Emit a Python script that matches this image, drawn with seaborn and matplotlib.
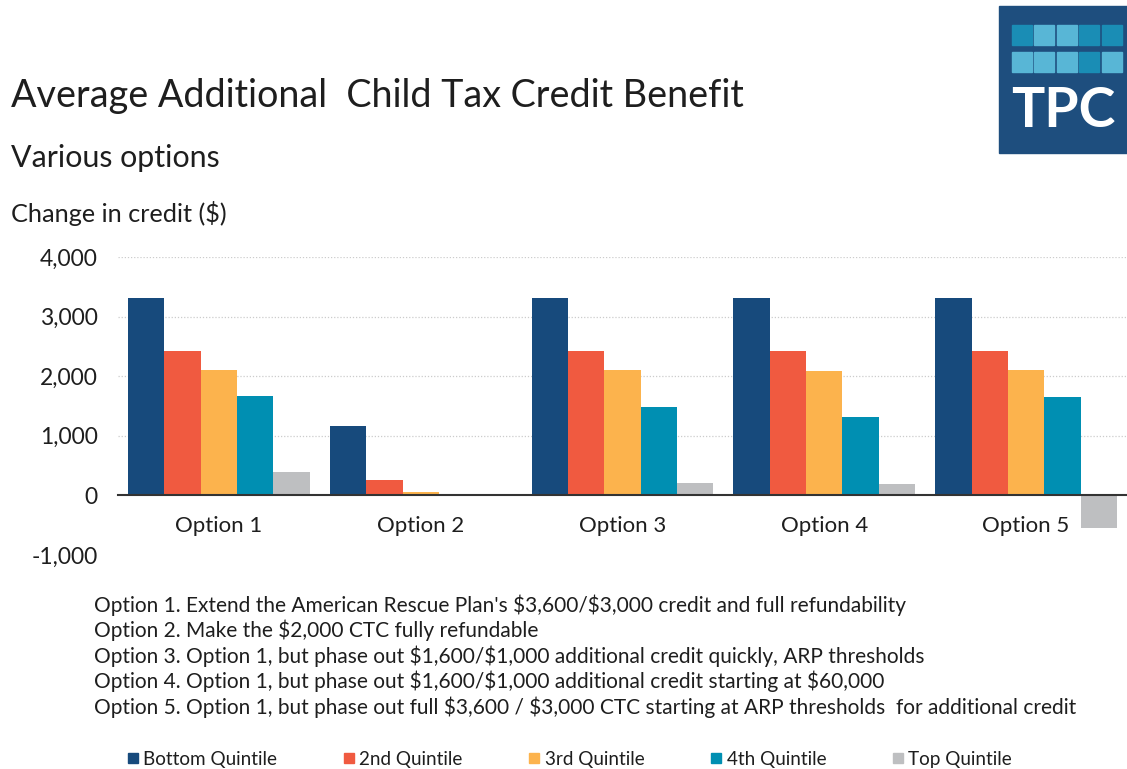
import pandas as pd
import numpy as np
import matplotlib.pyplot as plt
import seaborn as sns
from matplotlib.patches import Rectangle
from matplotlib.lines import Line2D

# chart data
options = ['Option 1', 'Option 2', 'Option 3', 'Option 4', 'Option 5']
quintiles = ['Bottom Quintile', '2nd Quintile', '3rd Quintile', '4th Quintile', 'Top Quintile']
bottom_q = [3310, 1170, 3310, 3310, 3310]
second_q = [2430, 250, 2430, 2430, 2430]
third_q = [2110, 65, 2110, 2090, 2110]
fourth_q = [1675, 30, 1475, 1315, 1655]
top_q = [385, 25, 215, 190, -550]
colors = ['#174A7C', '#F05A40', '#FCB34D', '#008FB2', '#BEBFC1']
yticks = [-1000, 0, 1000, 2000, 3000, 4000]
notes = [
    "Option 1. Extend the American Rescue Plan's $3,600/$3,000 credit and full refundability",
    "Option 2. Make the $2,000 CTC fully refundable",
    "Option 3. Option 1, but phase out $1,600/$1,000 additional credit quickly, ARP thresholds",
    "Option 4. Option 1, but phase out $1,600/$1,000 additional credit starting at $60,000",
    "Option 5. Option 1, but phase out full $3,600 / $3,000 CTC starting at ARP thresholds  for additional credit",
]

rows = []
for q, vals in zip(quintiles, [bottom_q, second_q, third_q, fourth_q, top_q]):
    for o, v in zip(options, vals):
        rows.append({'option': o, 'quintile': q, 'value': v})
df = pd.DataFrame(rows)

sns.set_style('white')
plt.rcParams['font.family'] = ['Lato', 'DejaVu Sans']
plt.rcParams['text.parse_math'] = False
txt = '#1e1e1e'

fig = plt.figure(figsize=(11.27, 7.69), dpi=100)
ax = fig.add_axes([0.1047, 0.2783, 0.8953, 0.3875])

sns.barplot(data=df, x='option', y='value', hue='quintile', hue_order=quintiles,
            palette=colors, saturation=1, width=0.9, ax=ax, legend=False,
            edgecolor='none')

ax.set_ylim(-1000, 4000)
ax.set_xlim(-0.5, 4.5)
ax.set_yticks(yticks)
ax.set_yticklabels([f'{t:,}' for t in yticks])
ax.set_xlabel('')
ax.set_ylabel('')
for s in ['top', 'right', 'left']:
    ax.spines[s].set_visible(False)
# zero baseline carries the category labels
ax.spines['bottom'].set_position(('data', 0))
ax.spines['bottom'].set_color('#333333')
ax.spines['bottom'].set_linewidth(1.5)
ax.spines['bottom'].set_zorder(3)
for t in [1000, 2000, 3000, 4000]:
    ax.axhline(t, color='#cccccc', lw=0.9, ls=(0, (1, 1.5)), zorder=0)
ax.tick_params(axis='y', length=0, labelsize=16.5, labelcolor=txt, pad=14.5)
ax.tick_params(axis='x', length=0, labelsize=16, labelcolor=txt, pad=15)

# titles
fig.text(0.010, 0.875, 'Average Additional  Child Tax Credit Benefit', fontsize=27.2, color=txt, va='center')
fig.text(0.010, 0.795, 'Various options', fontsize=21.9, color=txt, va='center')
fig.text(0.010, 0.722, 'Change in credit ($)', fontsize=18.2, color=txt, va='center')

# footnotes
for i, n in enumerate(notes):
    fig.text(0.083, 1 - (605 + i * 25.5) / 769, n, fontsize=15, color=txt, va='center')

# legend
handles = [Line2D([], [], marker='s', ls='none', color=c, markersize=7) for c in colors]
fig.legend(handles, quintiles, loc='center left', bbox_to_anchor=(0.111, 1 - 759 / 769),
           ncol=5, frameon=False, fontsize=13.6, handletextpad=0.15, columnspacing=3.4,
           handlelength=0.8, borderaxespad=0, borderpad=0, labelcolor=txt)

# logo
fig.patches.append(Rectangle((999 / 1127, 1 - 153 / 769), 128 / 1127, 147 / 769,
                             transform=fig.transFigure, color='#1E4E7E', zorder=5))
sq = [['#1A8DB5', '#58B6D6', '#58B6D6', '#1A8DB5', '#1A8DB5'],
      ['#58B6D6', '#58B6D6', '#58B6D6', '#1A8DB5', '#58B6D6']]
for r in range(2):
    for c in range(5):
        x0 = 1011.5 + c * 22.5
        y0 = 25 + r * 27
        fig.patches.append(Rectangle((x0 / 1127, 1 - (y0 + 20) / 769), 20 / 1127, 20 / 769,
                                     transform=fig.transFigure, color=sq[r][c], zorder=6))
fig.text(1063 / 1127, 1 - 111 / 769, 'TPC', fontsize=40, fontweight='bold', color='white',
         ha='center', va='center', zorder=7)

fig.savefig('out.png', dpi=100)
